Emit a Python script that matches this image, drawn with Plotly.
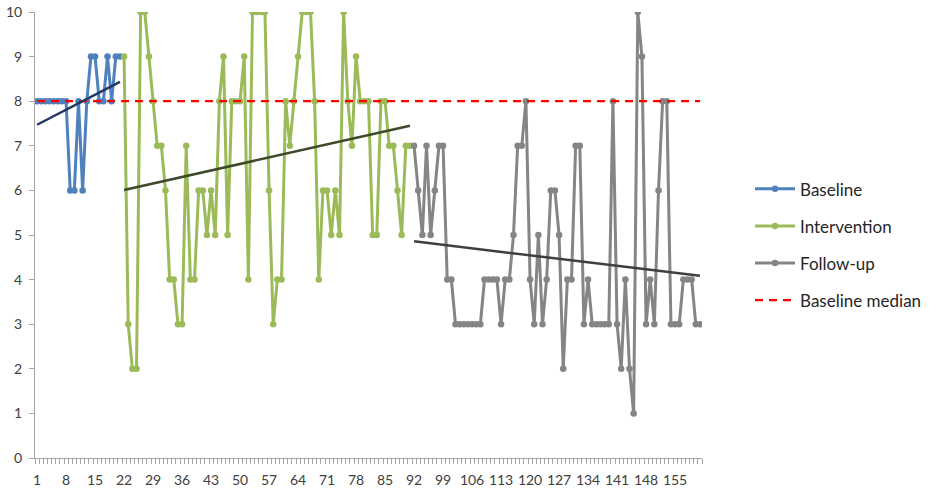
import numpy as np
import plotly.graph_objects as go

# ---- data ----
baseline_x = list(range(1, 22))
baseline_y = [8, 8, 8, 8, 8, 8, 8, 8, 6, 6, 8, 6, 8, 9, 9, 8, 8, 9, 8, 9, 9]

intervention_x = list(range(22, 92))
intervention_y = [9, 3, 2, 2, 10, 10, 9, 8, 7, 7, 6, 4, 4, 3, 3, 7, 4, 4, 6, 6,
                  5, 6, 5, 8, 9, 5, 8, 8, 8, 9, 4, 10, 10, 10, 10, 6, 3, 4, 4, 8,
                  7, 8, 9, 10, 10, 10, 8, 4, 6, 6, 5, 6, 5, 10, 8, 7, 9, 8, 8, 8,
                  5, 5, 8, 8, 7, 7, 6, 5, 7, 7]

followup_x = list(range(92, 162))
followup_y = [7, 6, 5, 7, 5, 6, 7, 7, 4, 4, 3, 3, 3, 3, 3, 3, 3, 4, 4, 4,
              4, 3, 4, 4, 5, 7, 7, 8, 4, 3, 5, 3, 4, 6, 6, 5, 2, 4, 4, 7,
              7, 3, 4, 3, 3, 3, 3, 3, 8, 3, 2, 4, 2, 1, 10, 9, 3, 4, 3, 6,
              8, 8, 3, 3, 3, 4, 4, 4, 3, 3]

median_x = list(range(1, 162))
median_value = 8

tick_vals = list(range(1, 162, 7))
tick_text = [str(v) for v in tick_vals]

series_names = ["Baseline", "Intervention", "Follow-up", "Baseline median"]

# ---- styling ----
C_BASE = "#4F81BD"
C_INT = "#9BBB59"
C_FOL = "#858585"
C_MED = "#FF0000"
C_TR_BASE = "#1F3864"
C_TR_INT = "#3D4A2A"
C_TR_FOL = "#3F3F3F"
FONT = "Lato, 'Open Sans', sans-serif"

fig = go.Figure()

def data_trace(x, y, name, color, group):
    return go.Scatter(x=x, y=y, name=name, mode="lines+markers",
                      line=dict(color=color, width=3),
                      marker=dict(color=color, size=6.5, symbol="circle"),
                      legendgroup=group)

fig.add_trace(data_trace(baseline_x, baseline_y, series_names[0], C_BASE, "a"))
fig.add_trace(data_trace(intervention_x, intervention_y, series_names[1], C_INT, "b"))
fig.add_trace(data_trace(followup_x, followup_y, series_names[2], C_FOL, "c"))
fig.add_trace(go.Scatter(x=median_x, y=[median_value] * len(median_x), name=series_names[3],
                         mode="lines", line=dict(color=C_MED, width=2.2, dash="8px,6px"),
                         legendgroup="d"))

# linear trend lines (least squares) computed from the data
for xs, ys, col in [(baseline_x, baseline_y, C_TR_BASE),
                    (intervention_x, intervention_y, C_TR_INT),
                    (followup_x, followup_y, C_TR_FOL)]:
    k, b = np.polyfit(xs, ys, 1)
    xe = [xs[0], xs[-1]]
    fig.add_trace(go.Scatter(x=xe, y=[k * v + b for v in xe], mode="lines",
                             line=dict(color=col, width=2.5), showlegend=False,
                             hoverinfo="skip"))

fig.update_layout(
    width=939, height=491,
    margin=dict(l=35, r=237, t=12, b=33, autoexpand=False),
    plot_bgcolor="white", paper_bgcolor="white",
    font=dict(family=FONT, size=14, color="#404040"),
    legend=dict(x=1.072, xanchor="left", y=0.478, yanchor="middle",
                font=dict(family=FONT, size=17, color="#262626"),
                tracegroupgap=12, traceorder="grouped", itemwidth=40),
    xaxis=dict(range=[0.5, 161.5], tickmode="array", tickvals=tick_vals, ticktext=tick_text,
               ticks="", showgrid=False, zeroline=False, showline=True, automargin=False,
               linecolor="#A6A6A6", linewidth=1, ticklabelstandoff=9,
               tickfont=dict(size=14, color="#404040"),
               minor=dict(tick0=0.5, dtick=1, ticks="outside", ticklen=5,
                          tickcolor="#A6A6A6", showgrid=False)),
    yaxis=dict(range=[0, 10], dtick=1, ticks="outside", ticklen=5, tickcolor="#A6A6A6",
               showgrid=False, zeroline=False, showline=True, linecolor="#A6A6A6",
               linewidth=1, automargin=False, ticklabelstandoff=4,
               tickfont=dict(size=14, color="#404040")),
)

fig.write_html("out.html")
